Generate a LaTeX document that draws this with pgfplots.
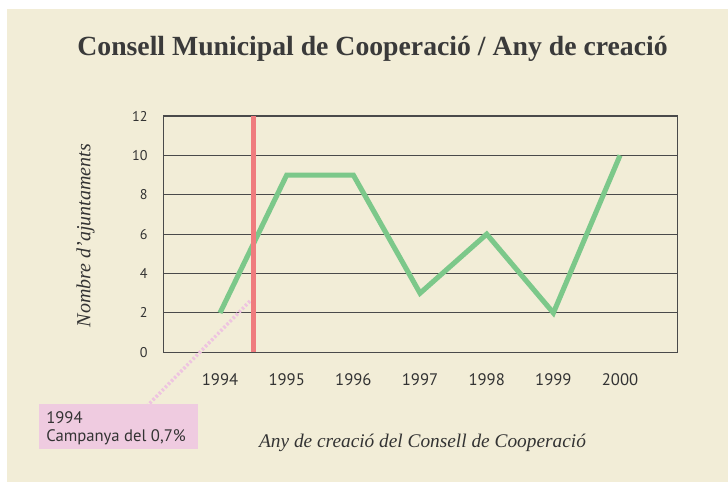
\documentclass[border=0pt]{standalone}
\usepackage{pgfplots}
\pgfplotsset{compat=1.18}
\usepackage{fontspec}
\setmainfont{Liberation Serif}
\newfontfamily\ptsans{PT Sans}
\definecolor{bg}{HTML}{F2EDD7}
\definecolor{titlec}{HTML}{3A3A3A}
\definecolor{txt}{HTML}{333333}
\definecolor{gridc}{HTML}{4A4A4A}
\definecolor{greenl}{HTML}{7CC88A}
\definecolor{redl}{HTML}{EF7C7E}
\definecolor{pinkbox}{HTML}{EFCBE0}
\definecolor{pinkdot}{HTML}{EEC4E0}
\begin{document}
\begin{tikzpicture}
\useasboundingbox (0,0) rectangle (546pt,-362.25pt);
\fill[white] (0,0) rectangle (546pt,-362.25pt);
\fill[bg] (5.25pt,-6.75pt) rectangle (546pt,-361.5pt);
\node[anchor=base, font=\fontsize{20.8}{24}\selectfont\bfseries, text=titlec, inner sep=0pt] at (279.4pt,-41.5pt) {Consell Municipal de Cooperació / Any de creació};
\begin{axis}[
  at={(122.5pt,-264.2pt)}, anchor=south west,
  scale only axis, width=385.8pt, height=177.2pt,
  xmin=1993.15, xmax=2000.865, ymin=0, ymax=12,
  xtick={1994,1995,1996,1997,1998,1999,2000},
  ytick={0,2,4,6,8,10,12},
  major tick length=0pt,
  ymajorgrids, grid style={gridc, line width=0.8pt},
  axis line style={gridc, line width=0.8pt},
  clip=false,
  /pgf/number format/assume math mode=true,
  /pgf/number format/1000 sep={},
  xticklabel style={font=\ptsans\fontsize{12.5}{14}\selectfont, text=txt, anchor=base, inner sep=0pt, yshift=-25pt},
  yticklabel style={font=\ptsans\fontsize{10.6}{12}\selectfont, text=txt, anchor=east, inner sep=0pt, xshift=-11.6pt},
]
\addplot[pinkdot, line width=2.6pt, dash pattern=on 1.8pt off 1.5pt] coordinates {(1994.45,2.6) (1992.92,-2.68)};
\addplot[greenl, line width=3.8pt, line join=miter] coordinates {
(1994,2) (1995,9) (1996,9) (1997,3) (1998,6) (1999,2) (2000,10)};
\addplot[redl, line width=4pt] coordinates {(1994.5,0) (1994.5,12)};
\end{axis}
\fill[pinkbox] (29.25pt,-303pt) rectangle (148.5pt,-336.75pt);
\node[anchor=base west, inner sep=0pt, font=\ptsans\fontsize{12.5}{14}\selectfont, text=txt] at (34.5pt,-317.25pt) {1994};
\node[anchor=base west, inner sep=0pt, font=\ptsans\fontsize{12.5}{14}\selectfont, text=txt] at (34.5pt,-330.75pt) {Campanya del 0,7\%};
\node[anchor=base, inner sep=0pt, font=\fontsize{14.5}{17}\selectfont\itshape, text=txt] at (316.9pt,-335.25pt) {Any de creació del Consell de Cooperació};
\node[rotate=90, inner sep=0pt, font=\fontsize{15}{18}\selectfont\itshape, text=txt] at (64.1pt,-176.6pt) {Nombre d'ajuntaments};
\end{tikzpicture}
\end{document}
